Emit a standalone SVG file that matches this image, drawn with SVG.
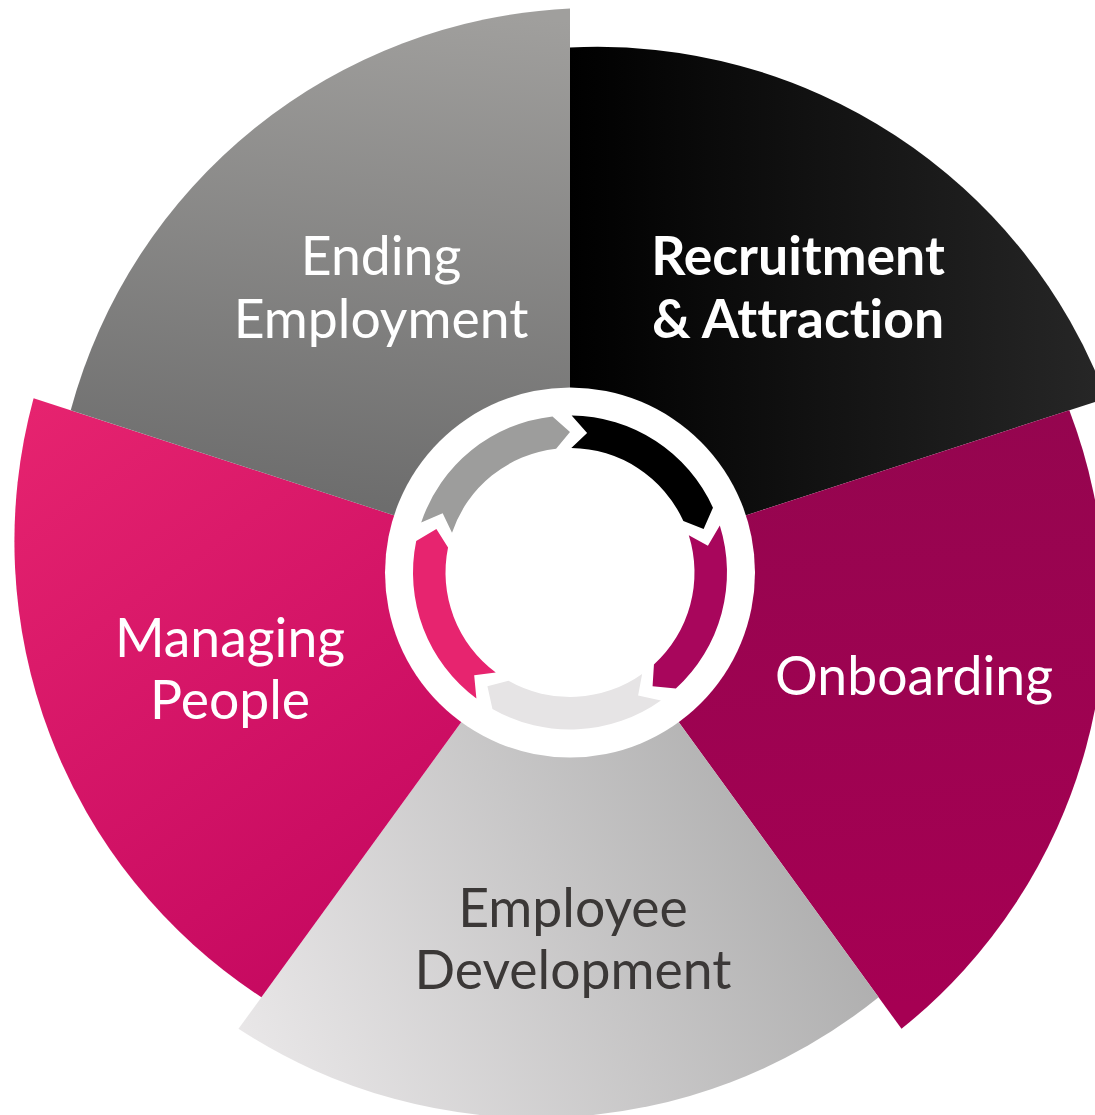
<svg xmlns="http://www.w3.org/2000/svg" xmlns:xlink="http://www.w3.org/1999/xlink" width="1095" height="1115" viewBox="0 0 1095 1115">
  <defs>
    <linearGradient id="g-recruit" gradientUnits="userSpaceOnUse" x1="570" y1="300" x2="1095" y2="300">
      <stop offset="0" stop-color="#000000"/>
      <stop offset="1" stop-color="#262626"/>
    </linearGradient>
    <linearGradient id="g-onboard" gradientUnits="userSpaceOnUse" x1="950" y1="420" x2="1000" y2="1000">
      <stop offset="0" stop-color="#95054f"/>
      <stop offset="1" stop-color="#a60053"/>
    </linearGradient>
    <linearGradient id="g-develop" gradientUnits="userSpaceOnUse" x1="250" y1="1060" x2="880" y2="760">
      <stop offset="0" stop-color="#e9e7e8"/>
      <stop offset="1" stop-color="#a6a6a6"/>
    </linearGradient>
    <linearGradient id="g-manage" gradientUnits="userSpaceOnUse" x1="40" y1="400" x2="460" y2="990">
      <stop offset="0" stop-color="#e6236f"/>
      <stop offset="1" stop-color="#c1055e"/>
    </linearGradient>
    <linearGradient id="g-ending" gradientUnits="userSpaceOnUse" x1="450" y1="10" x2="400" y2="520">
      <stop offset="0" stop-color="#a09f9d"/>
      <stop offset="1" stop-color="#6c6c6c"/>
    </linearGradient>
    <!-- one curved chevron arrow of the hub ring, drawn for the top-right slot -->
    <path id="arrow" d="M571.64,415.51 A157,157 0 0 1 712.98,507.64 L703.62,529.08 L683.38,521.07 A124.5,124.5 0 0 0 571.30,448.01 L587.12,433.05 Z"/>
  </defs>
  <style>
    .label { font-family: Lato, "Liberation Sans", sans-serif; font-size: 53.5px; text-anchor: middle; fill: #ffffff;
             font-variant-ligatures: none; font-feature-settings: "liga" 0, "dlig" 0, "clig" 0; }
    .bold { font-weight: 700; }
    .dark { fill: #3b3837; }
  </style>

  <!-- stage sectors, clockwise from the top -->
  <g id="recruitment">
    <path d="M570,572.5 L570,47.5 A544,544 0 0 1 1106.4,398.2 Z" fill="url(#g-recruit)"/>
    <text class="label bold" x="798" y="275">Recruitment</text>
    <text class="label bold" x="798" y="338">&amp; Attraction</text>
  </g>
  <g id="onboarding">
    <path d="M570,572.5 L1069.3,410.3 A544,544 0 0 1 901.5,1028.8 Z" fill="url(#g-onboard)"/>
    <text class="label" x="914" y="695">Onboarding</text>
  </g>
  <g id="employee-development">
    <path d="M570,572.5 L878.6,997.2 A544,544 0 0 1 238.5,1028.8 Z" fill="url(#g-develop)"/>
    <text class="label dark" x="573" y="927">Employee</text>
    <text class="label dark" x="573" y="989">Development</text>
  </g>
  <g id="managing-people">
    <path d="M570,572.5 L261.4,997.2 A544,544 0 0 1 33.6,398.2 Z" fill="url(#g-manage)"/>
    <text class="label" x="230" y="657">Managing</text>
    <text class="label" x="230" y="719">People</text>
  </g>
  <g id="ending-employment">
    <path d="M570,572.5 L70.7,410.3 A544,544 0 0 1 570,8.5 Z" fill="url(#g-ending)"/>
    <text class="label" x="381" y="275">Ending</text>
    <text class="label" x="381" y="338">Employment</text>
  </g>

  <!-- white hub -->
  <g id="hub">
    <circle cx="570" cy="572.5" r="185" fill="#ffffff"/>
  </g>

  <!-- cycle arrows linking the stages -->
  <g id="cycle-arrows">
    <use xlink:href="#arrow" fill="#000000"/>
    <use xlink:href="#arrow" fill="#a8065c" transform="rotate(72 570 572.5)"/>
    <use xlink:href="#arrow" fill="#e6e4e5" transform="rotate(144 570 572.5)"/>
    <use xlink:href="#arrow" fill="#e7246f" transform="rotate(216 570 572.5)"/>
    <use xlink:href="#arrow" fill="#9d9d9c" transform="rotate(288 570 572.5)"/>
  </g>
</svg>
